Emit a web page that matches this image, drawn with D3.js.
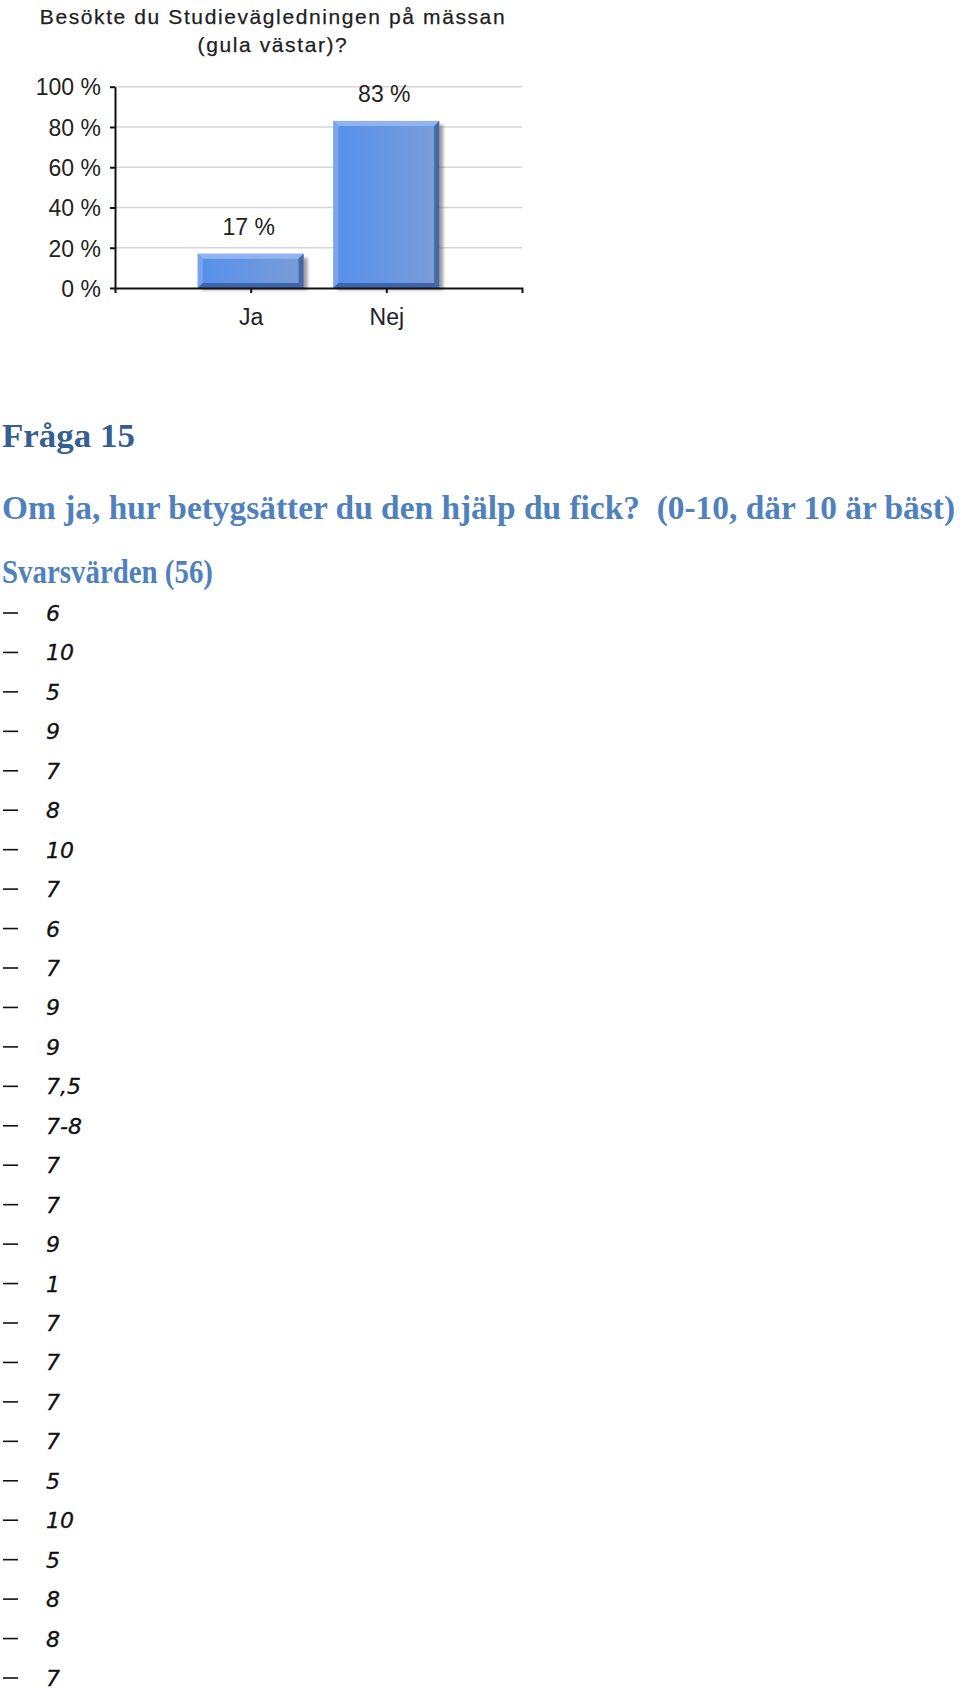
<!DOCTYPE html>
<html>
<head>
<meta charset="utf-8">
<script src="https://cdn.jsdelivr.net/npm/d3@7"></script>
<style>
  body { margin: 0; background: #fff; }
  svg { display: block; }
</style>
</head>
<body>
<div id="chart"></div>
<script>
// chart data
const chartTitle = ['Besökte du Studievägledningen på mässan', '(gula västar)?'];
const categories = ['Ja', 'Nej'];
const percentages = [17, 83];
const yTicks = [0, 20, 40, 60, 80, 100];

// text section
const questionHeading = 'Fråga 15';
const questionText = 'Om ja, hur betygsätter du den hjälp du fick?  (0-10, där 10 är bäst)';
const answersHeading = 'Svarsvärden (56)';
const answerValues = ['6', '10', '5', '9', '7', '8', '10', '7', '6', '7', '9', '9', '7,5', '7-8',
  '7', '7', '9', '1', '7', '7', '7', '7', '5', '10', '5', '8', '8', '7'];

const width = 960;
const height = 1688;

const svg = d3.select('#chart').selectAll('svg').data([0]).join('svg')
  .attr('width', width)
  .attr('height', height);

/*
   ----------------------------------------------------------------------
   BAR CHART
   ----------------------------------------------------------------------
*/

let margins = { t: 86.7, l: 115 };
let chartdims = { width: 407, height: 201.3 };

let xScale = d3.scalePoint().domain(categories).range([margins.l, margins.l + chartdims.width]).padding(1);
let yScale = d3.scaleLinear().domain([0, 100]).range([margins.t + chartdims.height, margins.t]);

let defs = svg.append('defs');
let grad = defs.append('linearGradient').attr('id', 'bar-front').attr('x1', 0).attr('x2', 1).attr('y1', 0).attr('y2', 0);
grad.append('stop').attr('offset', 0).attr('stop-color', '#5590ec');
grad.append('stop').attr('offset', 1).attr('stop-color', '#7a9dd6');
let blur = defs.append('filter').attr('id', 'shadow-blur').attr('x', -0.2).attr('y', -0.2).attr('width', 1.4).attr('height', 1.4);
blur.append('feGaussianBlur').attr('stdDeviation', 1.6);

svg.selectAll('.title-line')
  .data(chartTitle)
  .join('text')
  .attr('class', 'title-line')
  .attr('x', 273)
  .attr('y', (d, i) => 23.5 + i * 28.5)
  .attr('text-anchor', 'middle')
  .attr('font-family', 'Liberation Sans, Arial, sans-serif')
  .attr('font-size', 21)
  .attr('letter-spacing', 1.6)
  .attr('fill', '#1e1e1e')
  .attr('stroke', '#1e1e1e')
  .attr('stroke-width', 0.25)
  .text(d => d);

// gridlines
svg.selectAll('.grid-line')
  .data(yTicks.filter(d => d > 0))
  .join('line')
  .attr('class', 'grid-line')
  .attr('x1', margins.l)
  .attr('x2', margins.l + chartdims.width)
  .attr('y1', d => yScale(d))
  .attr('y2', d => yScale(d))
  .attr('stroke', '#d6d6d6')
  .attr('stroke-width', 1.5);

// 3d bars
const barW = xScale.step() * 0.78;
const bev = 5;

let barg = svg.selectAll('.bar-g')
  .data(percentages)
  .join('g')
  .attr('class', 'bar-g');

barg.append('rect')
  .attr('x', (d, i) => xScale(categories[i]) - barW / 2 + 4)
  .attr('y', d => yScale(d) + 4)
  .attr('width', barW)
  .attr('height', d => yScale(0) - yScale(d) - 2)
  .attr('fill', '#555')
  .attr('opacity', 0.55)
  .attr('filter', 'url(#shadow-blur)');

const bevels = (d, i) => {
  let x0 = xScale(categories[i]) - barW / 2, x1 = x0 + barW;
  let y0 = yScale(d), y1 = yScale(0);
  return [
    { c: '#8fb4f0', p: [[x0, y0], [x1, y0], [x1 - bev, y0 + bev], [x0 + bev, y0 + bev]] },
    { c: '#79a5ee', p: [[x0, y0], [x0 + bev, y0 + bev], [x0 + bev, y1 - bev], [x0, y1]] },
    { c: '#4868a3', p: [[x1, y0], [x1, y1], [x1 - bev, y1 - bev], [x1 - bev, y0 + bev]] },
    { c: '#3f64aa', p: [[x0, y1], [x0 + bev, y1 - bev], [x1 - bev, y1 - bev], [x1, y1]] }
  ];
};

barg.append('rect')
  .attr('x', (d, i) => xScale(categories[i]) - barW / 2)
  .attr('y', d => yScale(d))
  .attr('width', barW)
  .attr('height', d => yScale(0) - yScale(d))
  .attr('fill', 'url(#bar-front)');

barg.selectAll('.bevel')
  .data((d, i) => bevels(d, i))
  .join('polygon')
  .attr('class', 'bevel')
  .attr('points', d => d.p.map(q => q.join(',')).join(' '))
  .attr('fill', d => d.c);

// value labels
svg.selectAll('.value-label')
  .data(percentages)
  .join('text')
  .attr('class', 'value-label')
  .attr('x', (d, i) => xScale(categories[i]) - 2)
  .attr('y', d => yScale(d) - 19)
  .attr('text-anchor', 'middle')
  .attr('font-family', 'Liberation Sans, Arial, sans-serif')
  .attr('font-size', 23)
  .attr('fill', '#222')
  .text(d => d + ' %');

// axes
let xAxis = d3.axisBottom(xScale).tickSize(5).tickSizeOuter(5).tickPadding(10);
let yAxis = d3.axisLeft(yScale).tickValues(yTicks).tickSize(5).tickSizeOuter(0).tickPadding(9).tickFormat(d => d + ' %');

let xaxisg = svg.append('g').attr('transform', `translate(0,${yScale(0)})`).call(xAxis);
let yaxisg = svg.append('g').attr('transform', `translate(${margins.l},0)`).call(yAxis);

[xaxisg, yaxisg].forEach(g => {
  g.select('.domain').attr('stroke', '#111').attr('stroke-width', 2);
  g.selectAll('.tick line').attr('stroke', '#111').attr('stroke-width', 2);
  g.selectAll('.tick text')
    .attr('font-family', 'Liberation Sans, Arial, sans-serif')
    .attr('font-size', 23)
    .attr('fill', '#222');
});
xaxisg.selectAll('.tick text').attr('dy', '0.95em');
yaxisg.selectAll('.tick text').attr('dy', '0.36em');

/*
   ----------------------------------------------------------------------
   TEXT SECTION
   ----------------------------------------------------------------------
*/

let headings = [
  { t: questionHeading, y: 447, w: 133, c: '#365f91' },
  { t: questionText, y: 519, w: 953, c: '#4f81bd' },
  { t: answersHeading, y: 583, w: 211, c: '#4f81bd' }
];

svg.selectAll('.heading')
  .data(headings)
  .join('text')
  .attr('class', 'heading')
  .attr('x', 2)
  .attr('y', d => d.y)
  .attr('textLength', d => d.w)
  .attr('lengthAdjust', 'spacingAndGlyphs')
  .attr('font-family', 'Liberation Serif, serif')
  .attr('font-weight', 'bold')
  .attr('font-size', 33.5)
  .attr('fill', d => d.c)
  .style('white-space', 'pre')
  .text(d => d.t);

let listScale = d3.scaleLinear().domain([0, answerValues.length - 1]).range([613, 1678]);

let itemg = svg.selectAll('.answer-g')
  .data(answerValues)
  .join('g')
  .attr('class', 'answer-g')
  .attr('transform', (d, i) => `translate(0,${listScale(i)})`);

itemg.append('line')
  .attr('x1', 3)
  .attr('x2', 18)
  .attr('stroke', '#111')
  .attr('stroke-width', 1.6);

itemg.append('text')
  .attr('x', 46)
  .attr('y', 8)
  .attr('font-family', 'DejaVu Sans, sans-serif')
  .attr('font-style', 'italic')
  .attr('font-size', 22)
  .attr('fill', '#111')
  .attr('stroke', '#111')
  .attr('stroke-width', 0.3)
  .text(d => d);
</script>
</body>
</html>
